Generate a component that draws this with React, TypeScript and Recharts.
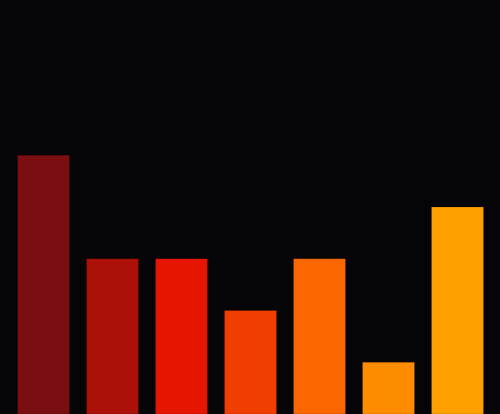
import { Bar, BarChart, Cell, XAxis, YAxis } from "recharts";

const categories = ["A", "B", "C", "D", "E", "F", "G"];
const values = [5, 3, 3, 2, 3, 1, 4];
const colors = [
  "#7a0e10",
  "#ab1009",
  "#e61500",
  "#ef3e00",
  "#fa6600",
  "#fd8c00",
  "#ffa000",
];

const data = categories.map((name, i) => ({ name, value: values[i] }));

export default function App() {
  return (
    <div
      style={{
        position: "fixed",
        top: 0,
        left: 0,
        width: 500,
        height: 414,
        background: "#050507",
      }}
    >
      <BarChart
        width={500}
        height={414}
        data={data}
        margin={{ top: 0, right: 8.5, bottom: 0, left: 8.5 }}
      >
        <XAxis dataKey="name" hide />
        <YAxis hide domain={[0, 8]} />
        <Bar dataKey="value" barSize={52} isAnimationActive={false}>
          {data.map((d, i) => (
            <Cell
              key={d.name}
              fill={colors[i]}
              stroke="rgba(0,0,0,0.15)"
              strokeWidth={1}
            />
          ))}
        </Bar>
      </BarChart>
    </div>
  );
}
